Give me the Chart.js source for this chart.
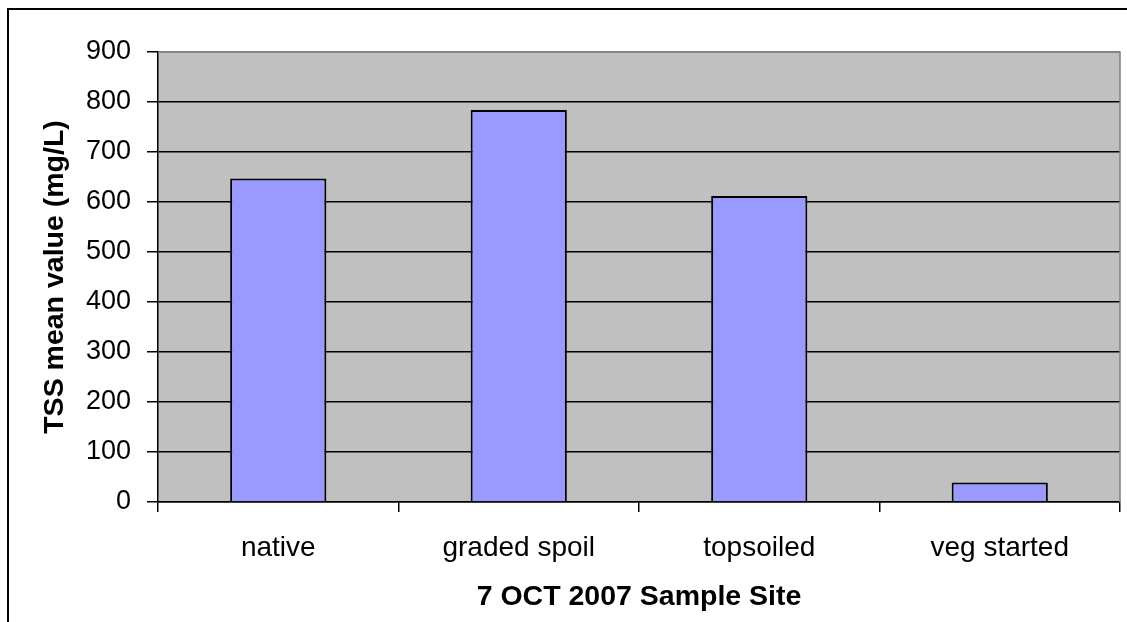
<!DOCTYPE html>
<html>
<head>
<meta charset="utf-8">
<script src="https://cdn.jsdelivr.net/npm/chart.js@4/dist/chart.umd.min.js"></script>
<style>
html,body{margin:0;padding:0;background:#fff;}
#wrap{position:relative;width:1127px;height:622px;}
</style>
</head>
<body>
<div id="wrap"><canvas id="c" width="1127" height="622"></canvas></div>
<script>
const categories = ["native", "graded spoil", "topsoiled", "veg started"];
const tssValues = [647, 784, 612, 39];
const yTicks = [0, 100, 200, 300, 400, 500, 600, 700, 800, 900];
const yTitle = "TSS mean value (mg/L)";
const xTitle = "7 OCT 2007 Sample Site";

const FONT = "Arial, 'Liberation Sans', Helvetica, sans-serif";

const frame = {
  id: 'frame',
  beforeDraw(chart) {
    const {ctx, chartArea: a} = chart;
    ctx.save();
    ctx.fillStyle = '#fff';
    ctx.fillRect(0, 0, chart.width, chart.height);
    ctx.fillStyle = '#000';
    ctx.fillRect(7, 8, chart.width, 2);
    ctx.fillRect(7, 8, 2, chart.height);
    ctx.fillStyle = '#C0C0C0';
    ctx.fillRect(a.left, a.top, a.right - a.left, a.bottom - a.top);
    ctx.restore();
  },
  afterDraw(chart) {
    const {ctx, chartArea: a} = chart;
    ctx.save();
    ctx.strokeStyle = '#808080';
    ctx.lineWidth = 1.5;
    ctx.beginPath();
    ctx.moveTo(a.left, a.top);
    ctx.lineTo(a.right, a.top);
    ctx.lineTo(a.right, a.bottom);
    ctx.stroke();
    ctx.restore();
  }
};

new Chart(document.getElementById('c'), {
  type: 'bar',
  data: {
    labels: categories,
    datasets: [{
      data: tssValues,
      backgroundColor: '#9999FF',
      borderColor: '#000',
      borderWidth: 2,
      barPercentage: 0.4,
      categoryPercentage: 1.0
    }]
  },
  options: {
    responsive: false,
    animation: false,
    devicePixelRatio: 1,
    layout: {padding: {top: 52, right: 7, left: 0, bottom: 0}},
    plugins: {legend: {display: false}, tooltip: {enabled: false}},
    scales: {
      x: {
        offset: true,
        grid: {display: true, drawOnChartArea: false, drawTicks: true, tickLength: 10, offset: true, color: '#000', lineWidth: 1.5},
        border: {display: true, color: '#000', width: 1.5},
        ticks: {color: '#000', font: {family: FONT, size: 28}, padding: 19, maxRotation: 0},
        title: {display: true, text: xTitle, color: '#000', font: {family: FONT, size: 28.5, weight: 'bold'}, padding: {top: 0, bottom: 8}},
        afterFit(s) { s.height = 120; }
      },
      y: {
        min: 0, max: 900,
        afterBuildTicks(s) { s.ticks = yTicks.map(v => ({value: v})); },
        grid: {
          color: ctx => (ctx.tick && ctx.tick.value === 900) ? '#808080' : '#000',
          tickColor: '#000',
          lineWidth: 1.5, drawTicks: true, tickLength: 11
        },
        border: {display: true, color: '#000', width: 1.5},
        ticks: {color: '#000', font: {family: FONT, size: 27}, padding: 16},
        title: {display: true, text: yTitle, color: '#000', font: {family: FONT, size: 28.5, weight: 'bold'}, padding: {top: 38, bottom: 0}},
        afterFit(s) { s.width = 158; }
      }
    }
  },
  plugins: [frame]
});
</script>
</body>
</html>
